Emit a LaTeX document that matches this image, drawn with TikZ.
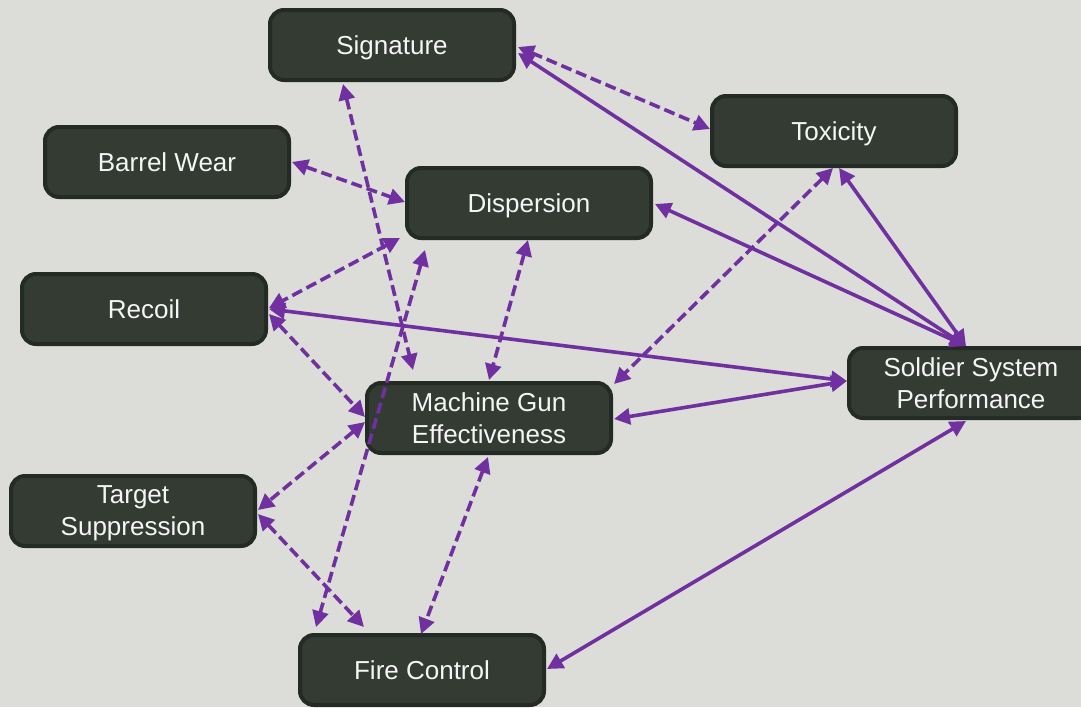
\documentclass[tikz,border=0pt]{standalone}
\usepackage{fontspec}
\setmainfont{Liberation Sans}
\usetikzlibrary{arrows.meta,calc}
\definecolor{bgc}{RGB}{220,221,216}
\definecolor{boxfill}{RGB}{51,59,51}
\definecolor{boxline}{RGB}{36,42,36}
\definecolor{linkc}{RGB}{112,48,160}
\begin{document}
\begin{tikzpicture}[x=0.5pt,y=-0.5pt,
  box/.style={draw=boxline, fill=boxfill, line width=2pt, rounded corners=7pt,
    minimum width=122pt, minimum height=35pt, inner sep=0pt, text=white!96!black,
    font=\fontsize{13}{16}\selectfont, align=center, text depth=0pt},
  link/.style={draw=linkc, line width=1.8pt,
    {Triangle[length=8pt,width=8pt]}-{Triangle[length=8pt,width=8pt]}},
  dlink/.style={link, dash pattern=on 5.5pt off 2.5pt}]
\fill[bgc] (0,0) rectangle (1081,707);
\useasboundingbox (0,0) rectangle (1081,707);

% factor boxes
\node[box] (sig)  at (392,45)  {Signature};
\node[box] (tox)  at (834,131) {Toxicity};
\node[box] (bw)   at (167,162) {Barrel Wear};
\node[box] (disp) at (529,203) {Dispersion};
\node[box] (rec)  at (144,309) {Recoil};
\node[box] (ssp)  at (971,383) {Soldier System\\Performance};
\node[box] (mge)  at (489,418) {Machine Gun\\Effectiveness};
\node[box] (ts)   at (133,511) {Target\\Suppression};
\node[box] (fc)   at (422,670) {Fire Control};

% dashed relations
\draw[dlink] ($(sig)+(126,2)$) -- ($(tox)+(-124,-2)$);
\draw[dlink] ($(sig)+(-49,39)$) -- ($(mge)+(-76,-48)$);
\draw[dlink] ($(bw)+(125,0)$) -- ($(disp)+(-124,-1)$);
\draw[dlink] ($(disp)+(-129,35)$) -- ($(rec)+(125,-1)$);
\draw[dlink] ($(disp)+(-1,37)$) -- ($(mge)+(0,-38)$);
\draw[dlink] ($(disp)+(-104,47)$) -- ($(fc)+(-106,-43)$);
\draw[dlink] ($(rec)+(125,5)$) -- ($(mge)+(-124,-1)$);
\draw[dlink] ($(tox)+(-1,37)$) -- ($(mge)+(125,-34)$);
\draw[dlink] ($(mge)+(-124,4)$) -- ($(ts)+(125,-1)$);
\draw[dlink] ($(mge)+(-1,39)$) -- ($(fc)+(-1,-36)$);
\draw[dlink] ($(ts)+(125,3)$) -- ($(fc)+(-58,-43)$);

% solid relations
\draw[link] ($(sig)+(126,8)$) -- ($(ssp)+(-5,-37)$);
\draw[link] ($(disp)+(126,1)$) -- ($(ssp)+(-5,-37)$);
\draw[link] ($(tox)+(5,37)$) -- ($(ssp)+(-5,-37)$);
\draw[link] ($(rec)+(125,0)$) -- ($(ssp)+(-124,-2)$);
\draw[link] ($(mge)+(125,1)$) -- ($(ssp)+(-124,-2)$);
\draw[link] ($(ssp)+(-5,38)$) -- ($(fc)+(125,-1)$);
\end{tikzpicture}
\end{document}
